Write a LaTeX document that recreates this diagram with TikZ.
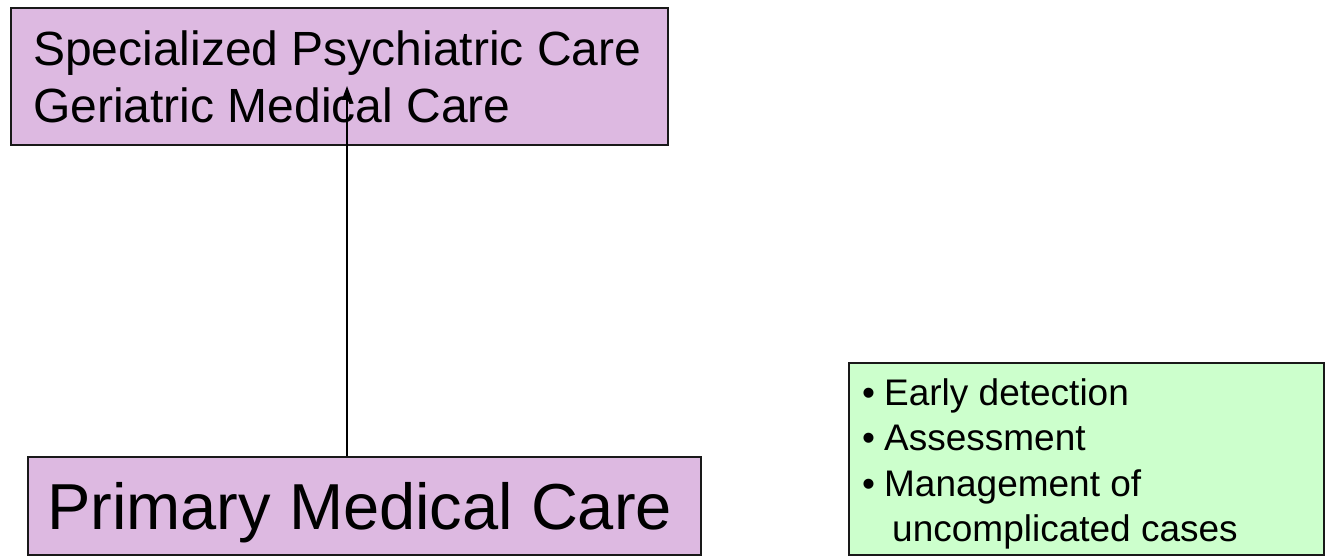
\documentclass[tikz,border=0pt]{standalone}
\usepackage{fontspec}
\setmainfont{Liberation Sans}
\usetikzlibrary{arrows.meta}
\definecolor{careLilac}{RGB}{221,185,225}
\definecolor{careMint}{RGB}{204,255,204}
\definecolor{edgeGrey}{RGB}{25,25,25}
\begin{document}
\begin{tikzpicture}[x=1pt,y=-1pt,
  carebox/.style={draw=edgeGrey, line width=1.8pt, anchor=north west, inner sep=0pt},
  boxtext/.style={anchor=base west, inner sep=0pt},
  tasktext/.style={boxtext, font=\fontsize{37}{44}\selectfont},
  link/.style={line width=1.4pt, draw=black, -{Triangle[length=14pt,width=10pt]}}]
\useasboundingbox (0,0) rectangle (1327,556);
\fill[white] (0,0) rectangle (1327,556);

% specialist level
\node[carebox, fill=careLilac, minimum width=657pt, minimum height=137pt] (special) at (10,7) {};
\node[boxtext, font=\fontsize{48}{56}\selectfont] (specialA) at (33,66) {Specialized Psychiatric Care};
\node[boxtext, font=\fontsize{48}{56}\selectfont] (specialB) at (33,123) {Geriatric Medical Care};

% primary level
\node[carebox, fill=careLilac, minimum width=673pt, minimum height=98pt] (primary) at (27,456) {};
\node[boxtext, font=\fontsize{65}{70}\selectfont] (primaryT) at (47,529) {Primary Medical Care};

% tasks of primary care
\node[carebox, fill=careMint, minimum width=475pt, minimum height=192pt] (tasks) at (848,362) {};
\node[tasktext] (taskA) at (862,405) {•\hspace{9pt}Early detection};
\node[tasktext] (taskB) at (862,450) {•\hspace{9pt}Assessment};
\node[tasktext] (taskC) at (862,496) {•\hspace{9pt}Management of};
\node[tasktext] (taskD) at (892,541) {uncomplicated cases};

% referral arrow
\coordinate (referTip) at (347,86);
\draw[link] (primary.north -| referTip) -- (referTip);
\end{tikzpicture}
\end{document}
